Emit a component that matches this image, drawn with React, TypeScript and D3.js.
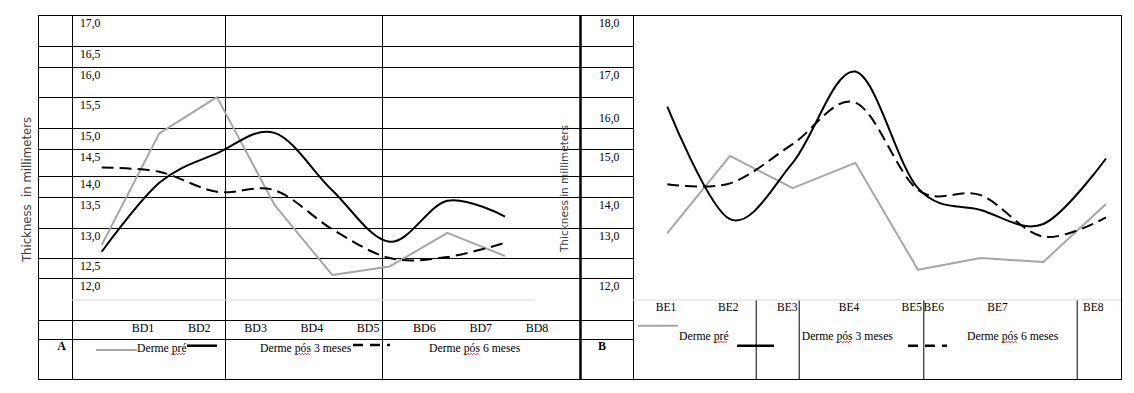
import React, { useEffect, useRef } from "react";
import * as d3 from "d3";

// panel A
const categoriesA = ["BD1", "BD2", "BD3", "BD4", "BD5", "BD6", "BD7", "BD8"];
const dermePreA = [12.8, 14.92, 15.61, 13.56, 12.23, 12.39, 13.03, 12.59];
const dermePos3A = [12.67, 13.98, 14.54, 14.93, 13.84, 12.86, 13.64, 13.34];
const dermePos6A = [14.27, 14.19, 13.81, 13.84, 13.1, 12.55, 12.57, 12.84];
const yTicksA = ["17,0", "16,5", "16,0", "15,5", "15,0", "14,5", "14,0", "13,5", "13,0", "12,5", "12,0"];

// panel B
const categoriesB = ["BE1", "BE2", "BE3", "BE4", "BE5", "BE6", "BE7", "BE8"];
const dermePreB = [13.21, 14.98, 14.24, 14.82, 12.37, 12.64, 12.55, 13.88];
const dermePos3B = [16.11, 13.53, 14.82, 16.91, 14.24, 13.74, 13.42, 14.92];
const dermePos6B = [14.33, 14.35, 15.25, 16.2, 14.2, 14.08, 13.13, 13.57];
const yTicksB = ["18,0", "17,0", "16,0", "15,0", "14,0", "13,0", "12,0"];

const seriesNames = ["Derme pré", "Derme pós 3 meses", "Derme pós 6 meses"];
const axisTitleA = "Thickness  in millimeters";
const axisTitleB = "Thickness in millimeters";

// table layout (a Word table with the charts laid over it)
const frame = { top: 15, bottom: 379, left: 38, right: 1121, mid: 580, colB: 633, axisY: 300 };
const rowLines = [46, 67, 97, 128, 149, 176, 197, 228, 258, 278, 320, 339];
const colsA = [72, 225, 382];
const colsBLow = [755.7, 798.7, 923.3, 1076.7];
const rowTops = [frame.top, ...rowLines];
const ticksBRows = [0, 2, 3, 5, 7, 8, 10];
const ticksBAlign = ["top", "top", "bottom", "top", "top", "top", "top"];
const labelXB = [666, 728.3, 787.3, 849, 911.7, 933.8, 997.5, 1093.3];

const serif = "'Liberation Serif', 'Times New Roman', serif";
const sans = "'DejaVu Sans', sans-serif";
const grey = "#a6a6a6";

const styles = [
  { stroke: grey, width: 2, dash: null, smooth: false },
  { stroke: "#000", width: 2, dash: null, smooth: true },
  { stroke: "#000", width: 2, dash: "12,6", smooth: true },
];

const legendA = [
  { x1: 96, x2: 137, y: 350, tx: 137, ty: 352, w: 2 },
  { x1: 187, x2: 217, y: 345.7, tx: 260, ty: 352, w: 2.5 },
  { x1: 353, x2: 390, y: 345, tx: 429, ty: 352, w: 2.5 },
];
const legendB = [
  { x1: 638, x2: 678, y: 325.7, tx: 679, ty: 340, w: 2 },
  { x1: 737, x2: 774, y: 345.7, tx: 801.7, ty: 340, w: 2.5 },
  { x1: 908, x2: 947, y: 345.7, tx: 967, ty: 340, w: 2.5 },
];

export default function App() {
  const ref = useRef<SVGSVGElement>(null);

  useEffect(() => {
    const svg = d3.select(ref.current);
    svg.selectAll("*").remove();

    const grid = svg.append("g").attr("stroke", "#000").attr("stroke-width", 1);
    const hline = (x1: number, x2: number, y: number, c = "#000") =>
      grid.append("line").attr("x1", x1).attr("x2", x2).attr("y1", y + 0.5).attr("y2", y + 0.5).attr("stroke", c);
    const vline = (x: number, y1: number, y2: number, w = 1) =>
      grid.append("line").attr("x1", x + 0.5).attr("x2", x + 0.5).attr("y1", y1).attr("y2", y2 + 1).attr("stroke-width", w);

    /* table grid */
    hline(frame.left, frame.right, frame.top);
    hline(frame.left, frame.right, frame.bottom);
    rowLines.forEach(y => hline(frame.left, frame.colB, y));
    [frame.left, ...colsA, frame.colB, frame.right].forEach(x => vline(x, frame.top, frame.bottom));
    vline(frame.mid, frame.top, frame.bottom, 2.5);
    colsBLow.forEach(x => vline(x, frame.axisY, frame.bottom));

    // chart category axis lines (light grey)
    hline(colsA[0], 535, frame.axisY - 0.5, "#d9d9d9");
    hline(frame.colB, frame.right, frame.axisY - 0.5, "#d9d9d9");

    /* Scales */
    const xA = d3.scalePoint<string>().domain(categoriesA).range([101.7, 505]);
    const xLabA = d3.scalePoint<string>().domain(categoriesA).range([143, 537]);
    const yA = d3.scaleLinear().domain([12, 17]).range([287, 24]);
    const xB = d3.scalePoint<string>().domain(categoriesB).range([667.3, 1106]);
    const xLabB = d3.scaleOrdinal<string, number>().domain(categoriesB).range(labelXB);
    const yB = d3.scaleLinear().domain([12, 18]).range([286, 24]);

    const drawSeries = (
      cats: string[], sets: number[][],
      x: d3.ScalePoint<string>, y: d3.ScaleLinear<number, number>
    ) => {
      sets.forEach((vals, i) => {
        const st = styles[i];
        const line = d3.line<number>()
          .x((_, j) => x(cats[j]) as number)
          .y(d => y(d))
          .curve(st.smooth ? d3.curveCardinal.tension(0) : d3.curveLinear);
        svg.append("path")
          .datum(vals)
          .attr("d", line)
          .attr("fill", "none")
          .attr("stroke", st.stroke)
          .attr("stroke-width", st.width)
          .attr("stroke-dasharray", st.dash)
          .attr("stroke-linejoin", "round");
      });
    };
    drawSeries(categoriesA, [dermePreA, dermePos3A, dermePos6A], xA, yA);
    drawSeries(categoriesB, [dermePreB, dermePos3B, dermePos6B], xB, yB);

    const txt = (x: number, y: number, s: string, size = 11.7) =>
      svg.append("text").attr("x", x).attr("y", y).text(s)
        .attr("font-family", serif).attr("font-size", size).attr("fill", "#000");

    // value labels in the table cells
    yTicksA.forEach((t, i) => txt(80, rowTops[i] + 11.5, t));
    yTicksB.forEach((t, i) => {
      const r = ticksBRows[i];
      const y = ticksBAlign[i] === "top" ? rowTops[r] + 11.5 : rowTops[r + 1] - 6;
      txt(599, y, t);
    });

    // category labels
    categoriesA.forEach(c => txt(xLabA(c) as number, 332, c, 12).attr("text-anchor", "middle"));
    categoriesB.forEach(c => txt(xLabB(c), 311, c, 11.5).attr("text-anchor", "middle"));

    // panel letters
    txt(61.5, 350, "A", 12).attr("text-anchor", "middle").attr("font-weight", "bold");
    txt(602, 350, "B", 12).attr("text-anchor", "middle").attr("font-weight", "bold");

    // axis titles
    const title = (x: number, y: number, s: string, size: number) =>
      svg.append("text")
        .attr("transform", `translate(${x},${y}) rotate(-90)`)
        .attr("text-anchor", "middle")
        .attr("font-family", sans).attr("font-size", size)
        .attr("fill", "#404040")
        .style("white-space", "pre")
        .text(s);
    title(30.5, 189.5, axisTitleA, 11.7);
    title(567.5, 188.5, axisTitleB, 10.5);

    /* legends */
    const drawLegend = (items: typeof legendA) => {
      items.forEach((it, i) => {
        const st = styles[i];
        svg.append("line")
          .attr("x1", it.x1).attr("x2", it.x2).attr("y1", it.y).attr("y2", it.y)
          .attr("stroke", st.stroke).attr("stroke-width", it.w)
          .attr("stroke-dasharray", st.dash ? "10,7" : null);
        const t = txt(it.tx, it.ty, seriesNames[i]);
        // spell-check squiggle under "pré" / "pós"
        const node = t.node() as SVGTextElement;
        const a = node.getStartPositionOfChar(6).x;
        const b = node.getEndPositionOfChar(8).x;
        const pts: [number, number][] = [];
        for (let px = a, k = 0; px <= b; px += 1.5, k++) pts.push([px, it.ty + (k % 2 ? 1.2 : 2.8)]);
        svg.append("path")
          .attr("d", d3.line()(pts))
          .attr("fill", "none")
          .attr("stroke", "#e00000")
          .attr("stroke-width", 0.8);
      });
    };
    drawLegend(legendA);
    drawLegend(legendB);
  }, []);

  return (
    <svg
      ref={ref}
      width={1134}
      height={393}
      style={{ position: "absolute", left: 0, top: 0, background: "#fff" }}
    />
  );
}
